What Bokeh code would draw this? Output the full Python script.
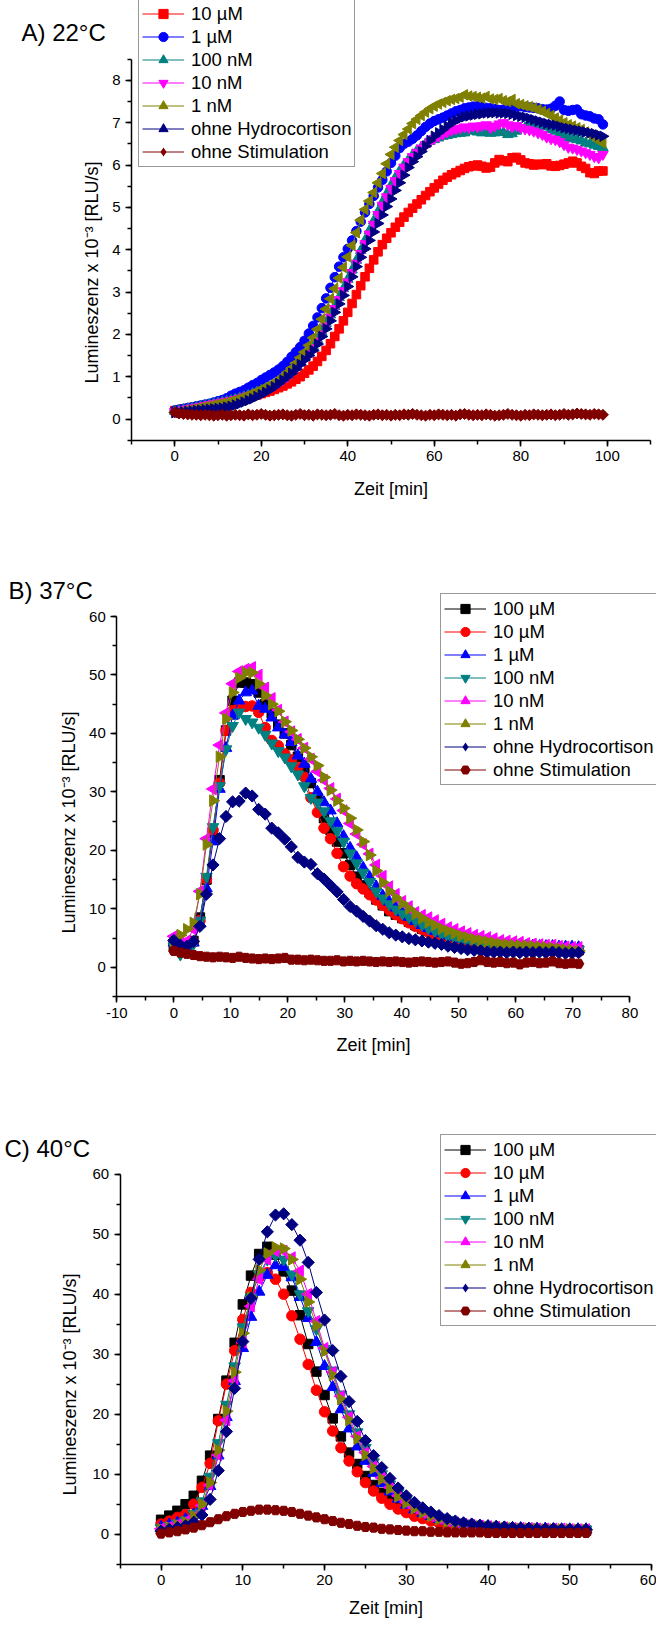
import math
from bokeh.plotting import figure
from bokeh.models import (Legend, LegendItem, Label, SingleIntervalTicker, Range1d,
                          PrintfTickFormatter)
from bokeh.layouts import column
from bokeh.embed import file_html
from bokeh.resources import INLINE

FONT = "Liberation Sans"

# ---------------- Panel A: 22 °C ----------------
xA = list(range(100))
A_10uM = [0.20,0.22,0.24,0.25,0.27,0.28,0.30,0.31,0.32,0.34,
          0.35,0.37,0.39,0.41,0.43,0.45,0.48,0.51,0.54,0.57,
          0.60,0.63,0.66,0.70,0.74,0.78,0.83,0.88,0.94,1.00,
          1.08,1.16,1.25,1.36,1.48,1.62,1.78,1.95,2.13,2.32,
          2.52,2.73,2.94,3.15,3.36,3.56,3.76,3.95,4.12,4.27,
          4.40,4.53,4.65,4.77,4.88,4.98,5.08,5.18,5.28,5.37,
          5.46,5.55,5.64,5.71,5.77,5.82,5.87,5.92,5.96,5.98,
          6.00,5.97,5.93,5.95,6.05,6.13,6.10,6.08,6.17,6.18,
          6.12,6.05,6.03,6.00,6.02,6.01,6.03,5.98,5.97,5.99,
          6.02,6.05,6.09,6.05,5.97,5.92,5.82,5.80,5.86,5.86]
A_1uM = [0.20,0.22,0.24,0.26,0.28,0.30,0.32,0.34,0.36,0.39,
         0.42,0.45,0.49,0.55,0.60,0.64,0.68,0.74,0.80,0.85,
         0.92,0.98,1.04,1.10,1.17,1.25,1.35,1.47,1.58,1.70,
         1.85,2.02,2.20,2.40,2.62,2.85,3.10,3.35,3.60,3.82,
         4.02,4.22,4.44,4.66,4.88,5.08,5.27,5.47,5.65,5.85,
         6.05,6.22,6.40,6.50,6.55,6.62,6.70,6.80,6.90,6.98,
         7.04,7.08,7.12,7.17,7.22,7.27,7.30,7.34,7.36,7.38,
         7.39,7.37,7.35,7.34,7.32,7.30,7.31,7.33,7.36,7.38,
         7.39,7.37,7.36,7.35,7.34,7.32,7.31,7.33,7.40,7.50,
         7.30,7.28,7.30,7.31,7.20,7.17,7.15,7.10,7.08,6.96]
A_100nM = [0.18,0.20,0.22,0.24,0.26,0.28,0.30,0.32,0.34,0.36,
           0.38,0.40,0.42,0.44,0.47,0.50,0.53,0.56,0.60,0.64,
           0.68,0.72,0.76,0.82,0.88,0.95,1.03,1.12,1.22,1.33,
           1.45,1.58,1.72,1.88,2.06,2.26,2.46,2.66,2.87,3.08,
           3.30,3.52,3.75,3.98,4.22,4.45,4.68,4.90,5.12,5.32,
           5.52,5.70,5.86,6.00,6.12,6.24,6.34,6.42,6.50,6.56,
           6.60,6.64,6.68,6.70,6.72,6.74,6.75,6.76,6.80,6.82,
           6.78,6.76,6.77,6.75,6.76,6.78,6.77,6.72,6.74,6.80,
           6.86,6.88,6.90,6.92,6.91,6.92,6.90,6.84,6.80,6.75,
           6.70,6.64,6.62,6.60,6.57,6.52,6.50,6.47,6.44,6.41]
A_10nM = [0.18,0.20,0.22,0.24,0.26,0.28,0.30,0.32,0.34,0.36,
          0.38,0.40,0.42,0.44,0.46,0.49,0.52,0.55,0.58,0.62,
          0.66,0.70,0.75,0.80,0.86,0.93,1.00,1.09,1.19,1.30,
          1.42,1.55,1.69,1.85,2.02,2.21,2.41,2.61,2.82,3.03,
          3.24,3.46,3.68,3.91,4.14,4.37,4.60,4.83,5.05,5.25,
          5.45,5.63,5.80,5.95,6.08,6.20,6.30,6.40,6.48,6.55,
          6.62,6.68,6.73,6.78,6.82,6.85,6.87,6.90,6.88,6.92,
          6.90,6.93,6.95,6.88,6.92,6.97,7.00,6.95,6.90,6.93,
          6.88,6.85,6.83,6.80,6.76,6.72,6.66,6.62,6.60,6.55,
          6.48,6.42,6.40,6.37,6.33,6.29,6.25,6.20,6.17,6.25]
A_1nM = [0.15,0.17,0.19,0.21,0.23,0.25,0.27,0.29,0.31,0.33,
         0.35,0.37,0.39,0.42,0.45,0.48,0.52,0.56,0.60,0.65,
         0.70,0.75,0.80,0.86,0.92,1.00,1.10,1.20,1.32,1.45,
         1.58,1.74,1.92,2.12,2.36,2.60,2.84,3.08,3.33,3.58,
         3.83,4.10,4.40,4.70,4.95,5.15,5.35,5.58,5.80,6.03,
         6.25,6.42,6.58,6.72,6.85,6.98,7.08,7.17,7.25,7.33,
         7.39,7.44,7.48,7.52,7.55,7.57,7.60,7.66,7.63,7.62,
         7.60,7.58,7.62,7.56,7.55,7.57,7.52,7.50,7.55,7.45,
         7.43,7.40,7.38,7.35,7.31,7.27,7.22,7.17,7.11,7.06,
         7.00,6.95,6.92,6.88,6.84,6.78,6.72,6.65,6.58,6.52]
A_noHC = [0.15,0.16,0.17,0.18,0.19,0.20,0.21,0.22,0.23,0.24,
          0.25,0.26,0.28,0.30,0.33,0.36,0.40,0.44,0.48,0.53,
          0.58,0.63,0.69,0.76,0.84,0.92,1.00,1.08,1.18,1.29,
          1.40,1.50,1.62,1.77,1.95,2.13,2.32,2.52,2.72,2.92,
          3.13,3.36,3.60,3.82,4.02,4.22,4.42,4.62,4.82,5.02,
          5.20,5.40,5.58,5.76,5.94,6.08,6.20,6.32,6.45,6.58,
          6.68,6.76,6.84,6.92,7.00,7.05,7.10,7.14,7.16,7.18,
          7.20,7.21,7.23,7.23,7.24,7.23,7.23,7.22,7.20,7.17,
          7.15,7.13,7.10,7.07,7.04,7.01,6.98,6.96,6.94,6.91,
          6.88,6.86,6.84,6.82,6.80,6.78,6.76,6.74,6.71,6.68]
A_noStim = [0.16,0.13,0.12,0.11,0.10,0.10,0.09,0.10,0.09,0.08,
            0.09,0.10,0.08,0.09,0.10,0.09,0.08,0.11,0.09,0.10,
            0.12,0.10,0.08,0.09,0.10,0.11,0.09,0.08,0.10,0.12,
            0.09,0.10,0.08,0.11,0.10,0.09,0.10,0.12,0.09,0.08,
            0.10,0.09,0.11,0.10,0.09,0.08,0.10,0.11,0.09,0.10,
            0.08,0.10,0.09,0.11,0.10,0.12,0.10,0.09,0.08,0.10,
            0.09,0.11,0.10,0.09,0.10,0.08,0.11,0.12,0.10,0.09,
            0.10,0.09,0.11,0.10,0.08,0.09,0.10,0.12,0.10,0.09,
            0.08,0.10,0.09,0.11,0.10,0.09,0.10,0.11,0.09,0.10,
            0.12,0.10,0.11,0.13,0.12,0.11,0.10,0.12,0.11,0.10]

# ---------------- Panel B: 37 °C ----------------
xB = [round(i * 71 / 62, 2) for i in range(63)]
B_100uM = [3.8,3.5,3.0,4.5,8.5,15.0,23.0,32.0,40.5,45.6,
           48.7,48.7,48.4,47.0,45.0,43.4,41.5,40.0,38.0,36.0,
           34.0,31.5,29.0,25.5,23.5,21.5,19.5,17.5,15.5,14.0,
           12.8,11.6,10.6,9.6,9.0,8.4,7.8,7.2,6.6,6.2,
           5.8,5.4,5.1,4.8,4.6,4.4,4.2,4.0,3.9,3.8,
           3.7,3.6,3.5,3.4,3.4,3.3,3.2,3.2,3.1,3.0,
           3.0,2.9,2.9]
B_10uM = [4.0,3.4,3.2,4.3,8.0,15.0,23.5,31.5,40.5,43.9,
          44.4,44.6,44.7,43.6,41.0,38.8,37.9,36.5,35.5,34.2,
          32.5,29.0,26.5,23.8,22.0,19.5,17.2,15.6,14.3,13.4,
          12.4,11.5,10.6,9.8,9.0,8.3,7.6,7.0,6.5,6.0,
          5.6,5.2,4.9,4.6,4.4,4.2,4.0,3.9,3.7,3.6,
          3.5,3.4,3.3,3.2,3.2,3.1,3.0,3.0,2.9,2.9,
          2.8,2.8,2.7]
B_1uM = [4.2,3.6,3.4,4.2,7.5,13.5,21.5,30.5,37.5,43.0,
         45.6,47.0,47.3,44.7,44.2,42.7,41.0,39.8,38.5,36.2,
         34.8,32.2,30.0,28.2,26.8,24.6,22.4,20.4,18.8,17.0,
         15.4,13.8,12.2,11.2,10.2,9.4,8.6,7.9,7.2,6.7,
         6.2,5.8,5.4,5.1,4.8,4.6,4.4,4.2,4.1,4.0,
         3.9,3.9,3.8,3.8,3.7,3.7,3.6,3.6,3.6,3.5,
         3.5,3.5,3.4]
B_100nM = [3.6,2.2,3.0,4.0,8.0,15.5,24.0,31.0,37.3,41.3,
           43.6,42.5,41.9,41.0,39.8,38.3,37.0,35.9,34.4,33.0,
           31.0,29.0,28.2,26.7,25.0,23.3,21.5,19.5,17.8,16.2,
           14.6,13.0,11.8,10.8,9.9,9.2,8.6,8.0,7.3,6.7,
           6.2,5.7,5.3,5.0,4.7,4.5,4.3,4.2,4.1,4.0,
           3.9,3.8,3.8,3.7,3.6,3.6,3.5,3.4,3.3,3.2,
           3.1,3.1,3.0]
B_10nM = [5.3,4.6,4.5,6.5,13.0,22.0,30.5,38.0,43.5,48.5,
          50.6,51.0,51.3,50.0,47.8,46.0,44.0,42.0,40.3,39.0,
          37.5,35.6,33.5,32.0,30.6,28.8,26.8,24.6,22.8,21.0,
          19.4,17.5,15.6,13.8,12.5,11.3,10.4,9.4,8.9,8.5,
          8.0,7.4,6.8,6.5,6.1,5.8,5.5,5.3,5.1,4.9,
          4.6,4.5,4.4,4.3,4.1,4.0,3.9,3.8,3.8,3.6,
          3.5,3.4,3.4]
B_1nM = [4.3,5.5,6.5,7.6,12.5,21.0,28.5,36.0,42.5,47.0,
         49.5,50.4,50.4,48.5,46.5,45.0,43.8,42.0,40.5,39.0,
         37.5,36.0,34.5,32.5,30.3,28.5,27.2,25.5,23.5,21.5,
         19.2,16.5,14.5,13.0,11.9,10.9,10.0,9.1,8.4,7.7,
         7.2,6.6,6.2,5.8,5.4,5.1,4.8,4.6,4.4,4.2,
         4.0,3.9,3.8,3.7,3.7,3.6,3.5,3.4,3.3,3.2,
         3.0,2.9,2.8]
B_noHC = [4.6,3.8,3.6,4.4,7.0,12.5,17.5,22.0,25.8,28.3,
          28.4,29.8,29.3,27.0,26.2,23.8,23.0,21.9,20.6,18.8,
          18.0,17.6,16.0,15.1,14.0,12.9,11.6,10.4,9.6,8.7,
          7.9,7.1,6.5,5.9,5.5,5.2,4.9,4.7,4.5,4.3,
          4.1,3.9,3.6,3.4,3.2,3.0,2.9,2.8,2.6,2.6,
          2.6,2.5,2.6,2.5,2.6,2.5,2.6,2.5,2.6,2.5,
          2.4,2.4,2.5]
B_noStim = [2.8,2.5,2.3,2.1,1.9,1.8,1.7,1.8,1.7,1.6,
            1.8,1.6,1.5,1.4,1.5,1.4,1.5,1.6,1.3,1.3,
            1.2,1.3,1.2,1.1,1.1,1.2,1.0,1.1,1.0,1.1,
            1.0,0.9,1.0,0.9,1.0,0.9,0.8,0.9,1.0,0.9,
            0.8,0.9,1.0,0.8,0.6,0.7,0.9,1.2,0.9,0.8,
            0.9,0.7,0.8,0.5,0.8,0.9,0.7,0.8,1.0,0.7,
            0.6,0.7,0.6]

# ---------------- Panel C: 40 °C ----------------
xC = list(range(53))
C_100uM = [2.4,3.1,3.9,5.0,6.4,8.9,13.1,19.2,25.6,31.9,
           38.3,43.1,46.7,47.9,46.6,43.8,40.6,36.5,31.7,27.1,
           23.2,19.3,16.3,13.6,11.7,9.7,8.2,6.9,5.8,4.9,
           4.1,3.5,3.0,2.6,2.2,1.9,1.7,1.5,1.3,1.2,
           1.1,1.0,0.9,0.9,0.8,0.8,0.7,0.7,0.7,0.6,
           0.6,0.6,0.6]
C_10uM = [1.7,2.2,2.8,3.3,5.0,7.8,11.8,18.9,25.0,30.6,
          35.8,40.3,42.8,43.6,42.5,40.0,36.4,32.5,28.3,24.0,
          20.4,17.2,14.4,12.2,10.4,8.6,7.2,6.0,5.0,4.2,
          3.6,3.0,2.6,2.2,1.9,1.6,1.4,1.2,1.1,1.0,
          0.9,0.8,0.8,0.7,0.7,0.6,0.6,0.6,0.5,0.5,
          0.5,0.5,0.5]
C_1uM = [1.2,1.6,1.9,2.5,3.3,4.7,8.0,13.1,19.5,25.5,
         31.0,36.2,40.4,43.2,44.8,44.5,42.8,39.5,36.0,32.0,
         28.0,24.5,20.8,17.6,14.6,12.2,10.2,8.5,7.1,5.9,
         4.9,4.1,3.5,3.0,2.5,2.2,1.9,1.7,1.5,1.4,
         1.3,1.2,1.1,1.0,1.0,0.9,0.9,0.9,0.8,0.8,
         0.8,0.8,0.8]
C_100nM = [1.0,1.4,1.8,2.3,3.4,5.5,9.6,15.2,21.6,28.0,
           34.5,39.5,43.3,45.8,46.5,45.8,43.3,40.0,37.2,34.2,
           30.9,27.3,23.3,20.0,17.0,14.4,12.0,10.0,8.3,6.9,
           5.7,4.7,3.9,3.3,2.8,2.4,2.0,1.8,1.6,1.4,
           1.3,1.2,1.1,1.0,1.0,0.9,0.9,0.9,0.8,0.8,
           0.8,0.8,0.8]
C_10nM = [0.9,1.2,1.6,2.1,2.9,4.8,8.2,13.2,19.0,25.6,
          32.0,38.0,42.5,45.8,47.2,47.2,46.1,43.9,40.0,35.5,
          31.0,27.0,23.0,19.5,16.3,13.6,11.3,9.4,7.8,6.4,
          5.3,4.4,3.6,3.0,2.6,2.2,1.9,1.7,1.5,1.4,
          1.3,1.2,1.1,1.0,1.0,1.0,0.9,0.9,0.9,0.9,
          0.8,0.8,0.8]
C_1nM = [0.8,1.1,1.5,2.0,3.0,5.0,8.6,14.0,20.5,27.0,
         33.5,39.5,44.0,46.8,47.8,47.6,45.8,42.5,38.7,34.8,
         30.5,26.5,22.5,19.0,15.9,13.2,11.0,9.2,7.6,6.3,
         5.2,4.3,3.6,3.0,2.5,2.1,1.8,1.6,1.4,1.3,
         1.2,1.1,1.0,1.0,0.9,0.9,0.9,0.8,0.8,0.8,
         0.8,0.7,0.7]
C_noHC = [0.5,0.8,1.1,1.4,2.0,3.2,5.8,10.6,17.1,24.3,
          32.1,39.3,45.8,50.4,53.2,53.4,51.6,49.0,45.3,40.3,
          35.7,30.6,26.3,22.1,18.8,15.6,13.1,11.1,9.3,7.7,
          6.4,5.3,4.4,3.7,3.1,2.6,2.2,1.9,1.7,1.5,
          1.4,1.3,1.2,1.1,1.0,1.0,0.9,0.9,0.9,0.8,
          0.8,0.8,0.8]
C_noStim = [0.1,0.3,0.5,0.8,1.1,1.5,2.0,2.5,3.0,3.4,
            3.7,3.9,4.1,4.1,4.0,3.9,3.7,3.4,3.1,2.8,
            2.5,2.2,1.9,1.7,1.4,1.2,1.1,0.9,0.8,0.7,
            0.6,0.5,0.5,0.4,0.4,0.3,0.3,0.3,0.3,0.3,
            0.2,0.2,0.2,0.2,0.2,0.2,0.2,0.2,0.2,0.2,
            0.2,0.2,0.2]

RED, BLUE, TEAL, MAG, OLIVE, NAVY, DRED, BLACK = (
    "#FF0000", "#0000FF", "#008080", "#FF00FF", "#808000", "#000080", "#800000", "#000000")

# marker styles: (plot marker, rotation, relative size, legend-key marker or None)
SQ = ("square", 0.0, 0.9, None)
CI = ("circle", 0.0, 1.0, None)
UP = ("triangle", 0.0, 1.1, None)
DN = ("inverted_triangle", 0.0, 1.1, None)
LT = ("triangle", math.pi / 2, 1.1, None)
RT = ("triangle", -math.pi / 2, 1.1, None)
DI = ("square", math.pi / 4, 0.82, "diamond")
PE = ("hex", 0.0, 1.0, None)

seriesA = [("10 µM", RED, SQ, A_10uM),
           ("1 µM", BLUE, CI, A_1uM),
           ("100 nM", TEAL, UP, A_100nM),
           ("10 nM", MAG, DN, A_10nM),
           ("1 nM", OLIVE, LT, A_1nM),
           ("ohne Hydrocortison", NAVY, RT, A_noHC),
           ("ohne Stimulation", DRED, DI, A_noStim)]
seriesB = [("100 µM", BLACK, SQ, B_100uM),
           ("10 µM", RED, CI, B_10uM),
           ("1 µM", BLUE, UP, B_1uM),
           ("100 nM", TEAL, DN, B_100nM),
           ("10 nM", MAG, LT, B_10nM),
           ("1 nM", OLIVE, RT, B_1nM),
           ("ohne Hydrocortison", NAVY, DI, B_noHC),
           ("ohne Stimulation", DRED, PE, B_noStim)]
seriesC = [("100 µM", BLACK, SQ, C_100uM),
           ("10 µM", RED, CI, C_10uM),
           ("1 µM", BLUE, UP, C_1uM),
           ("100 nM", TEAL, DN, C_100nM),
           ("10 nM", MAG, LT, C_10nM),
           ("1 nM", OLIVE, RT, C_1nM),
           ("ohne Hydrocortison", NAVY, DI, C_noHC),
           ("ohne Stimulation", DRED, PE, C_noStim)]

YLABEL = "Lumineszenz x 10⁻³ [RLU/s]"
XLABEL = "Zeit [min]"
W = 656


def fit_range(v0, v1, p0, p1, total):
    """Range whose values v0, v1 land on canvas pixels p0, p1 (frame = whole canvas)."""
    s = (p1 - p0) / (v1 - v0)
    return Range1d(v0 - p0 / s, v1 + (total - p1) / s)


def panel(title, xs, series, xb, yb, xint, yint, h, xpx, ypx,
          leg_xy, title_xy, ylab_xy, xlab_xy, msize):
    p = figure(width=W, height=h, output_backend="svg", toolbar_location=None,
               title=None,
               x_range=fit_range(xb[0], xb[1], xpx[0], xpx[1], W),
               y_range=fit_range(yb[0], yb[1], ypx[0], ypx[1], h),
               min_border=0, min_border_left=0, min_border_right=0,
               min_border_top=0, min_border_bottom=0)
    p.outline_line_color = None
    p.grid.visible = False
    p.background_fill_color = "white"
    p.border_fill_color = "white"
    p.xaxis.ticker = SingleIntervalTicker(interval=xint, num_minor_ticks=2)
    p.yaxis.ticker = SingleIntervalTicker(interval=yint, num_minor_ticks=2)
    p.xaxis.fixed_location = yb[0]
    p.yaxis.fixed_location = xb[0]
    p.xaxis.bounds = xb
    p.yaxis.bounds = yb
    for ax in (p.xaxis[0], p.yaxis[0]):
        ax.formatter = PrintfTickFormatter(format="%d")
        ax.axis_label = None
        ax.axis_line_width = 1.5
        ax.axis_line_color = "black"
        ax.major_tick_line_width = 1.5
        ax.minor_tick_line_width = 1.5
        ax.major_tick_line_color = "black"
        ax.minor_tick_line_color = "black"
        ax.major_tick_out = 6
        ax.major_tick_in = 0
        ax.minor_tick_out = 4
        ax.minor_tick_in = 0
        ax.major_label_text_font = FONT
        ax.major_label_text_font_size = "15px"
        ax.major_label_text_color = "black"
        ax.major_label_standoff = 5
    items = []
    for name, color, (marker, ang, rel, kmarker), ys in series:
        lr = p.line(xs, ys, line_color=color, line_width=1)
        sr = p.scatter(xs, ys, marker=marker, size=msize * rel, angle=ang,
                       fill_color=color, line_color=color)
        if kmarker is None:
            items.append(LegendItem(label=name, renderers=[lr, sr]))
        else:
            # zero-size twin of the series: only gives the legend an upright key symbol
            kr = p.scatter(xs, ys, marker=kmarker, size=0, fill_color=color,
                           line_color=None)
            items.append(LegendItem(label=name, renderers=[lr, kr]))
    leg = Legend(items=items, location=leg_xy, orientation="vertical",
                 label_text_font=FONT, label_text_font_size="18.5px",
                 label_text_color="black",
                 glyph_width=42, glyph_height=23, label_height=20, spacing=0,
                 padding=3, margin=0, label_standoff=7,
                 border_line_color="#333333", border_line_width=1.2,
                 background_fill_color="white", background_fill_alpha=1.0)
    p.add_layout(leg)
    p.add_layout(Label(x=title_xy[0], y=h - title_xy[1], x_units="screen", y_units="screen",
                       text=title, text_font=FONT, text_font_size="24px",
                       text_color="black", text_baseline="middle", text_align="left"))
    p.add_layout(Label(x=ylab_xy[0], y=h - ylab_xy[1], x_units="screen", y_units="screen",
                       text=YLABEL, angle=math.pi / 2, text_font=FONT,
                       text_font_size="18px", text_color="black",
                       text_baseline="middle", text_align="center"))
    p.add_layout(Label(x=xlab_xy[0], y=h - xlab_xy[1], x_units="screen", y_units="screen",
                       text=XLABEL, text_font=FONT, text_font_size="18px",
                       text_color="black", text_baseline="middle", text_align="center"))
    return p


# pixel geometry below is in canvas pixels from the top-left of each figure
pA = panel("A) 22°C", xA, seriesA, (-10, 110), (-0.5, 8.5), 20, 1, 550,
           (131, 650), (550 - 439.7, 550 - 58.7),
           (138, 550 - 167), (21, 32), (91.4, 272), (390.5, 488), 9.5)
pB = panel("B) 37°C", xB, seriesB, (-10, 80), (-5, 60), 10, 10, 546,
           (116.3, 629.4), (546 - 446, 546 - 66),
           (440, 546 - 235), (8, 40), (68.3, 272), (372.9, 494.5), 10.5)
pC = panel("C) 40°C", xC, seriesC, (-5, 60), (-5, 60), 10, 10, 522,
           (119.7, 651), (522 - 467.7, 522 - 77.7),
           (440, 522 - 230), (4, 52), (69, 288), (385.4, 511), 10.5)

layout = column(pA, pB, pC, spacing=0)
open("out.html", "w").write(file_html(layout, INLINE))
